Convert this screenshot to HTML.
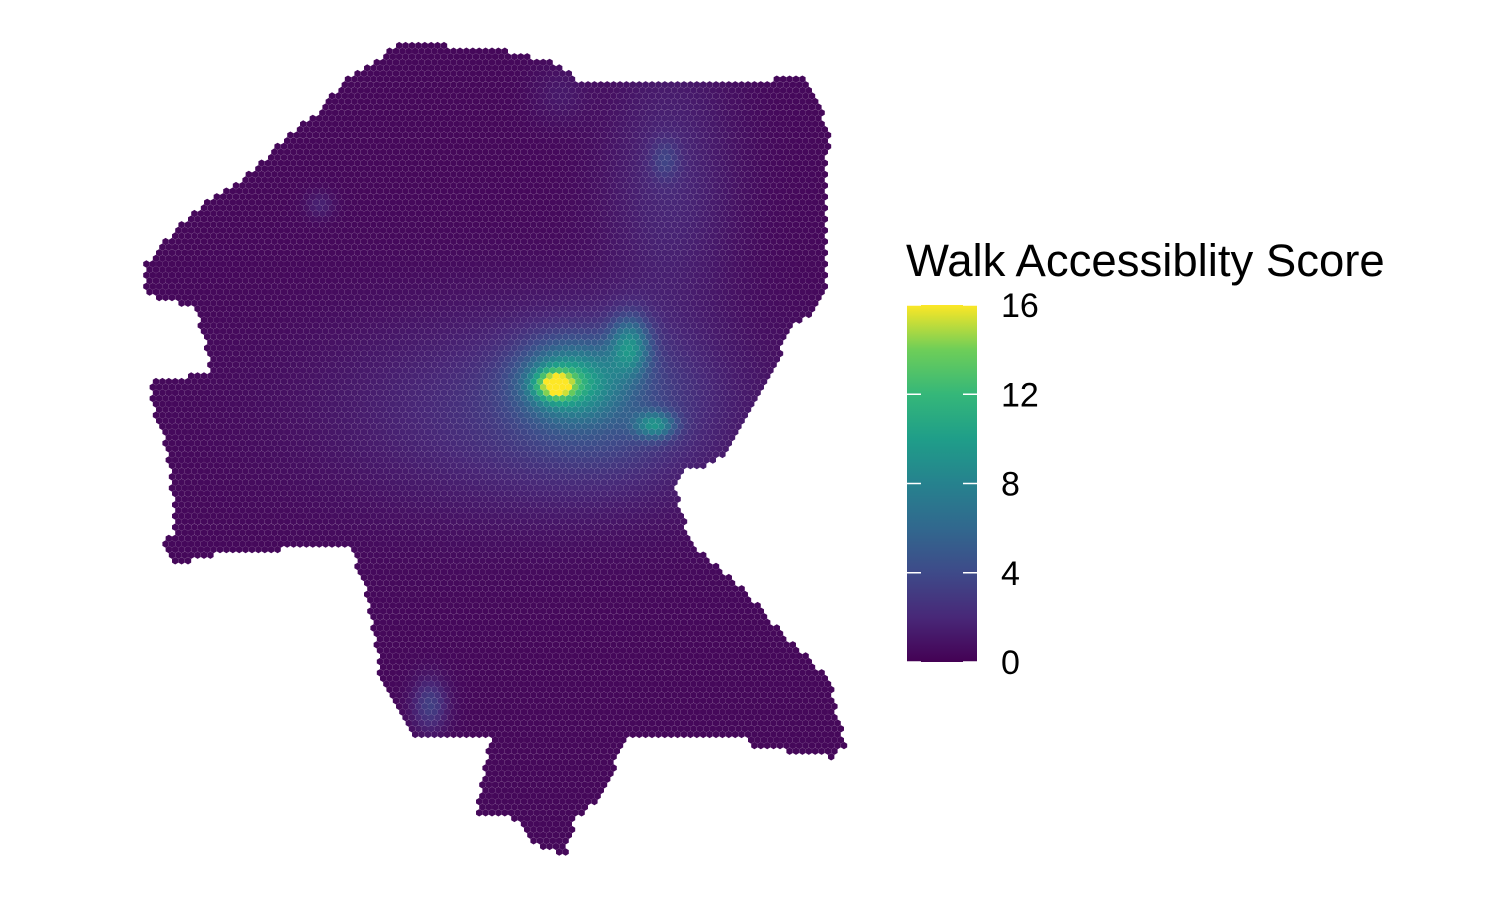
<!DOCTYPE html>
<html><head><meta charset="utf-8"><style>
body{margin:0;background:#fff;}
svg{display:block;font-family:"Liberation Sans",Arial,sans-serif;}
</style></head><body>
<svg id="chart" width="1500" height="900">
<defs>
<linearGradient id="vir" x1="0" y1="1" x2="0" y2="0">
<stop offset="0" stop-color="#440154"/><stop offset="0.125" stop-color="#482878"/><stop offset="0.25" stop-color="#3e4a89"/><stop offset="0.375" stop-color="#31688e"/><stop offset="0.5" stop-color="#26828e"/><stop offset="0.625" stop-color="#1f9e89"/><stop offset="0.75" stop-color="#35b779"/><stop offset="0.875" stop-color="#6ece58"/><stop offset="1" stop-color="#fde725"/>
</linearGradient>
</defs>
<g id="cells"></g>
<g id="legend">
<text x="906" y="276" font-size="45.5" fill="#000">Walk Accessiblity Score</text>
<rect x="907" y="305" width="70" height="357" fill="url(#vir)"/>
</g>
</svg>
<script>
// hotspot data: x, y (pixel location on map), peak score, spread x / y
const hotX = [555, 570, 630, 655, 600, 540, 670, 665, 430, 320, 560];
const hotY = [385, 380, 345, 425, 400, 410, 180, 160, 705, 205, 95];
const hotV = [9, 6.5, 6, 6, 2.5, 2.3, 1.6, 1.8, 3, 1.3, 0.8];
const hotSx = [14, 34, 14, 14, 60, 140, 45, 10, 12, 10, 20];
const hotSy = [10, 26, 20, 9, 50, 70, 90, 14, 18, 9, 20];
const baseScore = 0.35;
const legendTicks = [0, 4, 8, 12, 16];

const outline = [[397,44],[445,44],[450,50],[500,50],[545,60],[570,70],[575,82],[775,82],[780,74],[805,74],[818,100],[830,135],[825,180],[828,280],[815,310],[790,330],[770,380],[745,420],[730,450],[710,465],[685,470],[675,490],[690,540],[720,570],[745,590],[770,620],[800,650],[830,680],[845,745],[835,758],[810,755],[750,745],[740,735],[625,738],[610,780],[600,800],[575,820],[565,855],[545,850],[530,840],[520,820],[500,815],[475,815],[480,790],[490,740],[410,735],[400,710],[380,680],[375,640],[365,590],[350,545],[340,545],[215,555],[175,565],[162,545],[175,530],[170,470],[165,440],[155,420],[150,382],[180,378],[210,370],[205,340],[195,310],[170,300],[145,295],[145,265],[165,240],[195,210],[240,180],[290,135],[320,110],[350,75],[380,60]];

const stops=["#440154","#482878","#3e4a89","#31688e","#26828e","#1f9e89","#35b779","#6ece58","#fde725"];
function hex2rgb(h){return [1,3,5].map(i=>parseInt(h.substr(i,2),16));}
const srgb=stops.map(hex2rgb);
function viridis(t){t=Math.max(0,Math.min(1,t));const f=t*8,i=Math.min(7,Math.floor(f)),r=f-i;
const a=srgb[i],b=srgb[i+1];return `rgb(${a.map((v,k)=>Math.round(v+(b[k]-v)*r)).join(',')})`;}
function inside(x,y){let c=false;for(let i=0,j=outline.length-1;i<outline.length;j=i++){const [xi,yi]=outline[i],[xj,yj]=outline[j];
if(((yi>y)!=(yj>y))&&(x<(xj-xi)*(y-yi)/(yj-yi)+xi))c=!c;}return c;}
const yScale=v=>662-v/16*357;
const NS="http://www.w3.org/2000/svg";
const g=document.getElementById('cells');
const w=6.4,h=5.6,r=3.7;
let frag=document.createDocumentFragment();
for(let row=0;row*h<900;row++){
  const y=40+row*h;
  for(let col=0;col*w<900;col++){
    const x=140+col*w+(row%2?w/2:0);
    if(!inside(x,y))continue;
    let v=baseScore;
    for(let k=0;k<hotX.length;k++){const d2=((x-hotX[k])/hotSx[k])**2+((y-hotY[k])/hotSy[k])**2;v+=hotV[k]*Math.exp(-d2/2);}
    const p=document.createElementNS(NS,'polygon');
    let pts=[];for(let a=0;a<6;a++){const an=Math.PI/3*a+Math.PI/6;pts.push((x+r*Math.cos(an)).toFixed(1)+','+(y+r*Math.sin(an)).toFixed(1));}
    p.setAttribute('points',pts.join(' '));
    p.setAttribute('fill',viridis(v/16));
    p.setAttribute('stroke','rgba(255,255,255,0.08)');p.setAttribute('stroke-width','0.4');
    
    
    frag.appendChild(p);
  }
}
g.appendChild(frag);
const lg=document.getElementById('legend');
legendTicks.forEach(t=>{
  const y=yScale(t);
  [[907,921],[963,977]].forEach(([a,b])=>{const l=document.createElementNS(NS,'line');
  l.setAttribute('x1',a);l.setAttribute('x2',b);l.setAttribute('y1',y);l.setAttribute('y2',y);
  l.setAttribute('stroke','#fff');l.setAttribute('stroke-width','1.5');
  
  
  lg.appendChild(l);});
  const tx=document.createElementNS(NS,'text');
  tx.setAttribute('x',1001);tx.setAttribute('y',y+12);tx.setAttribute('font-size','34');
  tx.textContent=t;
  
  
  lg.appendChild(tx);
});
</script>
</body></html>
